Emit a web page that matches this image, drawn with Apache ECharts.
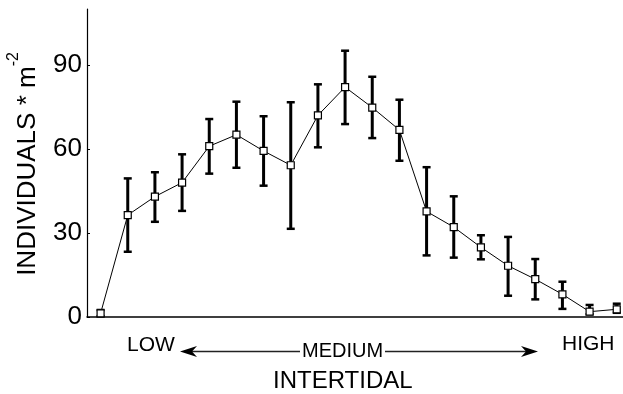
<!DOCTYPE html>
<html>
<head>
<meta charset="utf-8">
<script src="https://cdn.jsdelivr.net/npm/echarts@6/dist/echarts.min.js"></script>
<style>
html,body{margin:0;padding:0;background:#fff;}
#chart{width:623px;height:394px;}
</style>
</head>
<body>
<div id="chart"></div>
<script>
// Station index along the intertidal gradient (low -> high)
const stations = [0,1,2,3,4,5,6,7,8,9,10,11,12,13,14,15,16,17,18,19];
const means = [1.3,36.4,43,48,61,65.1,59.3,54.2,72,82.1,74.8,66.8,37.7,32.1,24.9,18.3,13.5,8.1,1.9,2.75];
const upper = [2.5,49.5,51.7,58.1,70.7,76.9,71.7,76.7,83.1,95.1,85.8,77.6,53.5,43.1,29.2,28.6,20.7,12.6,4.3,4.75];
const lower = [0.3,23.3,34,37.9,51.2,53.3,46.9,31.5,60.6,68.9,63.9,55.8,22,21.2,20.6,7.6,6.3,2.9,1.0,1.5];
const yTicks = [0,30,60,90];
const zoneLabels = ['LOW','MEDIUM','HIGH'];
const xTitle = 'INTERTIDAL';
const yTitle = 'INDIVIDUALS * m';
const yTitleSup = '-2';

const chart = echarts.init(document.getElementById('chart'), null, {renderer:'canvas'});
const FONT = 'Liberation Sans, Arial, sans-serif';

const meanData = stations.map((s,i)=>[s, means[i]]);
const errData = stations.map((s,i)=>[s, lower[i], upper[i]]);

chart.setOption({
  animation:false,
  backgroundColor:'#fff',
  grid:{left:87,right:0,top:9,bottom:77,containLabel:false,outerBoundsMode:'none'},
  xAxis:{
    type:'value', min:-0.5, max:19.23,
    axisLine:{show:true,onZero:false,lineStyle:{color:'#000',width:1.5}},
    axisTick:{show:false}, axisLabel:{show:false}, splitLine:{show:false}
  },
  yAxis:{
    type:'value', min:0, max:110, interval:30,
    axisLine:{show:true,onZero:false,lineStyle:{color:'#000',width:1.2}},
    axisTick:{show:true,inside:true,length:3,customValues:yTicks,lineStyle:{color:'#000'}},
    axisLabel:{customValues:yTicks,fontSize:26,fontFamily:FONT,color:'#000',margin:5},
    splitLine:{show:false}
  },
  series:[
    {
      type:'custom',
      data:errData,
      z:2,
      renderItem:function(params,api){
        const x = api.value(0);
        const lo = api.coord([x, api.value(1)]);
        const hi = api.coord([x, api.value(2)]);
        const hw = 4;
        return {
          type:'group',
          children:[
            {type:'line',shape:{x1:lo[0],y1:lo[1],x2:hi[0],y2:hi[1]},style:{stroke:'#000',lineWidth:3}},
            {type:'line',shape:{x1:hi[0]-hw,y1:hi[1],x2:hi[0]+hw,y2:hi[1]},style:{stroke:'#000',lineWidth:2.5}},
            {type:'line',shape:{x1:lo[0]-hw,y1:lo[1],x2:lo[0]+hw,y2:lo[1]},style:{stroke:'#000',lineWidth:2.5}}
          ]
        };
      }
    },
    {
      type:'line',
      data:meanData,
      z:3,
      symbol:'rect', symbolSize:7,
      lineStyle:{color:'#000',width:1},
      itemStyle:{color:'#fff',borderColor:'#000',borderWidth:1.2}
    }
  ],
  graphic:[
    {type:'text',x:28,y:164,rotation:Math.PI/2,style:{
      text:'{a|'+yTitle+'}{b|'+yTitleSup+'}',
      align:'center',verticalAlign:'middle',
      rich:{
        a:{fontSize:26,fontFamily:FONT,fill:'#000',lineHeight:44,verticalAlign:'middle'},
        b:{fontSize:16,fontFamily:FONT,fill:'#000',lineHeight:17,verticalAlign:'top'}
      }
    }},
    {type:'text',left:127,top:335,style:{text:zoneLabels[0],font:'21px '+FONT,fill:'#000'}},
    {type:'line',shape:{x1:192,y1:351.5,x2:300,y2:351.5},style:{stroke:'#222',lineWidth:1.4}},
    {type:'polygon',shape:{points:[[180,351.5],[197,346],[192,351.5],[197,357]]},style:{fill:'#000'}},
    {type:'text',left:302,top:341,style:{text:zoneLabels[1],font:'20px '+FONT,fill:'#000'}},
    {type:'line',shape:{x1:385,y1:351.5,x2:528,y2:351.5},style:{stroke:'#222',lineWidth:1.4}},
    {type:'polygon',shape:{points:[[538,351.5],[521,346],[526,351.5],[521,357]]},style:{fill:'#000'}},
    {type:'text',left:562,top:334,style:{text:zoneLabels[2],font:'21px '+FONT,fill:'#000'}},
    {type:'text',left:273,top:369,style:{text:xTitle,font:'24px '+FONT,fill:'#000'}}
  ]
});
</script>
</body>
</html>
